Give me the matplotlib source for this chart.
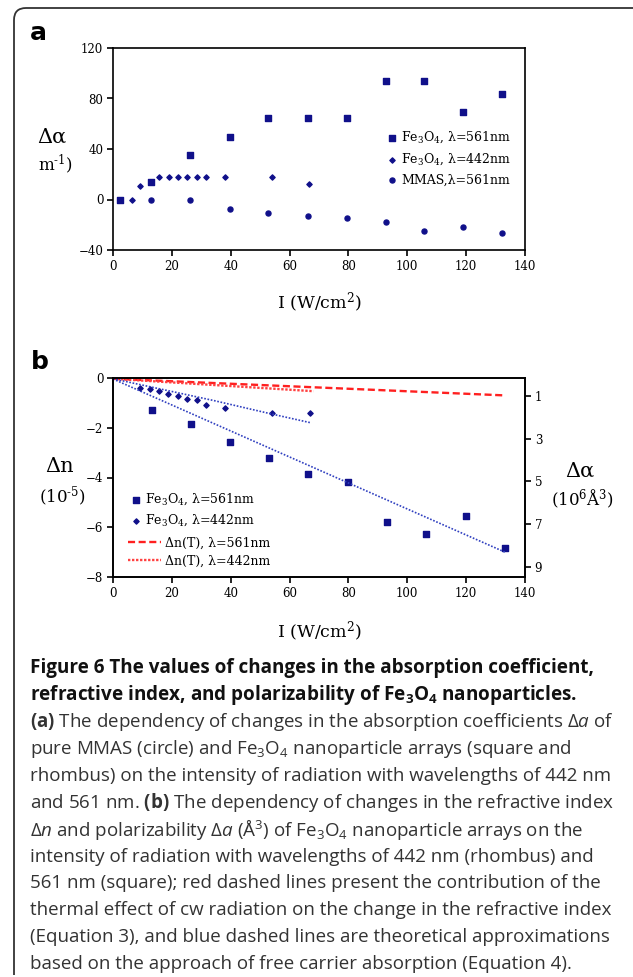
import numpy as np
import matplotlib.pyplot as plt
from matplotlib.path import Path
from matplotlib.patches import PathPatch

plt.rcParams['mathtext.fontset'] = 'custom'
plt.rcParams['mathtext.rm'] = 'Open Sans'
plt.rcParams['mathtext.it'] = 'Open Sans:italic'
plt.rcParams['mathtext.bf'] = 'Open Sans:bold'

# panel a data
a_sq_x = [2.5, 12.9, 26.3, 39.6, 52.8, 66.1, 79.4, 92.7, 105.7, 119.0, 132.3]
a_sq_y = [0, 14, 35.5, 49.5, 64.5, 64.5, 64.5, 93.5, 93.5, 69.5, 83.5]
a_di_x = [2.5, 6.3, 9.3, 12.9, 15.8, 19.1, 22.1, 25.2, 28.5, 31.7, 38.1, 54.0, 66.6]
a_di_y = [0, 0, 10.4, 14, 17.5, 17.5, 17.5, 17.5, 17.5, 17.5, 17.5, 17.5, 12.2]
a_ci_x = [2.5, 12.9, 26.3, 39.6, 52.8, 66.1, 79.4, 92.7, 105.7, 119.0, 132.3]
a_ci_y = [0, 0, 0, -7.6, -11, -12.8, -14.7, -17.8, -24.7, -21.5, -26.8]

# panel b data
b_sq_x = [13.1, 26.4, 39.8, 53.1, 66.4, 79.8, 93.1, 106.5, 119.8, 133.2]
b_sq_y = [-1.29, -1.85, -2.57, -3.2, -3.84, -4.19, -5.78, -6.29, -5.55, -6.85]
b_di_x = [9.1, 12.5, 15.5, 18.7, 22.0, 25.3, 28.5, 31.6, 38.1, 54.1, 66.9]
b_di_y = [-0.42, -0.43, -0.51, -0.66, -0.74, -0.85, -0.87, -1.08, -1.21, -1.42, -1.42]
fit561_x = [0, 133.2]
fit561_y = [-0.04, -7.0]
fit442_x = [0, 34, 54, 67.2]
fit442_y = [-0.03, -0.9, -1.45, -1.8]
th561_x = [0, 133.2]
th561_y = [-0.03, -0.70]
th442_x = [0, 68.1]
th442_y = [-0.03, -0.53]

navy = '#10108a'
W, H = 633, 977
fig = plt.figure(figsize=(W / 100, H / 100), dpi=100)


def fx(px):
    return px / W


def fy(py):
    return 1 - py / H


# frame
verts = [(14, 975), (14, 20), (14, 8), (26, 8), (633, 8)]
codes = [Path.MOVETO, Path.LINETO, Path.CURVE3, Path.CURVE3, Path.LINETO]
frame = PathPatch(Path([(fx(x), fy(y)) for x, y in verts], codes), fill=False,
                  lw=1.3, edgecolor='#333333', transform=fig.transFigure)
fig.patches.append(frame)

serif = 'DejaVu Serif'
tick_kw = dict(direction='out', length=4, width=1.2, labelsize=8.5, pad=3)


def style(ax):
    for s in ax.spines.values():
        s.set_linewidth(1.2)
    ax.tick_params(**tick_kw)
    for lab in ax.get_xticklabels() + ax.get_yticklabels():
        lab.set_fontfamily(serif)


def mathfont(leg):
    for t in leg.get_texts():
        t.set_math_fontfamily('dejavuserif')


# ---- panel a ----
ax1 = fig.add_axes([fx(113), fy(250), 412 / W, 202 / H])
ax1.scatter(a_sq_x, a_sq_y, marker='s', s=15, color=navy, label=r'Fe$_3$O$_4$, λ=561nm')
ax1.scatter(a_di_x, a_di_y, marker='D', s=7, color=navy, label=r'Fe$_3$O$_4$, λ=442nm')
ax1.scatter(a_ci_x, a_ci_y, marker='o', s=13, color=navy, label='MMAS,λ=561nm')
ax1.set_xlim(0, 140)
ax1.set_ylim(-40, 120)
ax1.set_xticks(range(0, 141, 20))
ax1.set_yticks(range(-40, 121, 40))
style(ax1)
leg = ax1.legend(loc='upper left', bbox_to_anchor=(0.645, 0.625), frameon=False,
                 handletextpad=0.1, borderpad=0, labelspacing=0.5, handlelength=1.2,
                 prop={'family': serif, 'size': 9})
mathfont(leg)

fig.text(fx(38), fy(33), 'a', fontsize=18, fontweight='bold', family='DejaVu Sans',
         ha='center', va='center')
fig.text(fx(52), fy(137), 'Δα', fontsize=15, family=serif, ha='center', va='center')
fig.text(fx(55), fy(164), r'm$^{\text{-}1}$)', fontsize=12, family=serif, ha='center', va='center',
         math_fontfamily='dejavuserif')
fig.text(fx(319), fy(303), r'I (W/cm$^2$)', fontsize=12.5, family=serif, ha='center', va='center',
         math_fontfamily='dejavuserif')

# ---- panel b ----
ax2 = fig.add_axes([fx(113), fy(577), 412 / W, 199 / H])
h_sq = ax2.scatter(b_sq_x, b_sq_y, marker='s', s=15, color=navy, label=r'Fe$_3$O$_4$, λ=561nm')
h_di = ax2.scatter(b_di_x, b_di_y, marker='D', s=7, color=navy, label=r'Fe$_3$O$_4$, λ=442nm')
h_t1, = ax2.plot(th561_x, th561_y, color='#ff2020', ls=(0, (3, 1.5)), lw=1.7,
                 label='Δn(T), λ=561nm')
h_t2, = ax2.plot(th442_x, th442_y, color='#ff4040', ls=(0, (1, 0.7)), lw=1.7,
                 label='Δn(T), λ=442nm')
ax2.plot(fit561_x, fit561_y, color='#3040c0', ls=(0, (1, 1)), lw=1.2)
ax2.plot(fit442_x, fit442_y, color='#3040c0', ls=(0, (1, 1)), lw=1.2)
ax2.set_xlim(0, 140)
ax2.set_ylim(-8, 0)
ax2.set_xticks(range(0, 141, 20))
ax2.set_yticks(range(-8, 1, 2))
style(ax2)
leg_m = ax2.legend(handles=[h_sq, h_di], loc='upper left', bbox_to_anchor=(0.022, 0.46),
                   frameon=False, handletextpad=0.1, borderpad=0, labelspacing=0.45,
                   handlelength=1.2, prop={'family': serif, 'size': 9})
mathfont(leg_m)
ax2.add_artist(leg_m)
leg_l = ax2.legend(handles=[h_t1, h_t2], loc='upper left', bbox_to_anchor=(0.022, 0.235),
                   frameon=False, handletextpad=0.3, borderpad=0, labelspacing=0.4,
                   handlelength=2.6, prop={'family': serif, 'size': 9})
mathfont(leg_l)

ax3 = ax2.twinx()
ax3.set_ylim(9.48, 0.16)
ax3.set_yticks([1, 3, 5, 7, 9])
style(ax3)

fig.text(fx(40), fy(362), 'b', fontsize=18, fontweight='bold', family='DejaVu Sans',
         ha='center', va='center')
fig.text(fx(60), fy(467), 'Δn', fontsize=15, family=serif, ha='center', va='center')
fig.text(fx(62), fy(497), r'(10$^{\text{-}5}$)', fontsize=12, family=serif, ha='center', va='center',
         math_fontfamily='dejavuserif')
fig.text(fx(580), fy(471), 'Δα', fontsize=15, family=serif, ha='center', va='center')
fig.text(fx(582), fy(499), r'(10$^6$Å$^3$)', fontsize=12, family=serif, ha='center', va='center',
         math_fontfamily='dejavuserif')
fig.text(fx(319), fy(632), r'I (W/cm$^2$)', fontsize=12.5, family=serif, ha='center', va='center',
         math_fontfamily='dejavuserif')

# ---- caption ----
cap_bold = [
    'Figure 6 The values of changes in the absorption coefficient,',
    r'refractive index, and polarizability of Fe$_\mathbf{3}$O$_\mathbf{4}$ nanoparticles.',
]
cap_body = [
    r'$\mathbf{(a)}$ The dependency of changes in the absorption coefficients $\Delta\mathit{a}$ of',
    r'pure MMAS (circle) and Fe$_3$O$_4$ nanoparticle arrays (square and',
    'rhombus) on the intensity of radiation with wavelengths of 442 nm',
    r'and 561 nm. $\mathbf{(b)}$ The dependency of changes in the refractive index',
    r'$\Delta\mathit{n}$ and polarizability $\Delta\mathit{a}$ (Å$^3$) of Fe$_3$O$_4$ nanoparticle arrays on the',
    'intensity of radiation with wavelengths of 442 nm (rhombus) and',
    '561 nm (square); red dashed lines present the contribution of the',
    'thermal effect of cw radiation on the change in the refractive index',
    '(Equation 3), and blue dashed lines are theoretical approximations',
    'based on the approach of free carrier absorption (Equation 4).',
]
y = 668
for line in cap_bold:
    fig.text(fx(30), fy(y), line, fontsize=13.6, family='Open Sans', fontweight='bold',
             color='#111111', ha='left', va='center')
    y += 27
for line in cap_body:
    fig.text(fx(30), fy(y), line, fontsize=13.5, family='Open Sans', color='#333333',
             ha='left', va='center')
    y += 26.9

fig.savefig('out.png', dpi=100)
